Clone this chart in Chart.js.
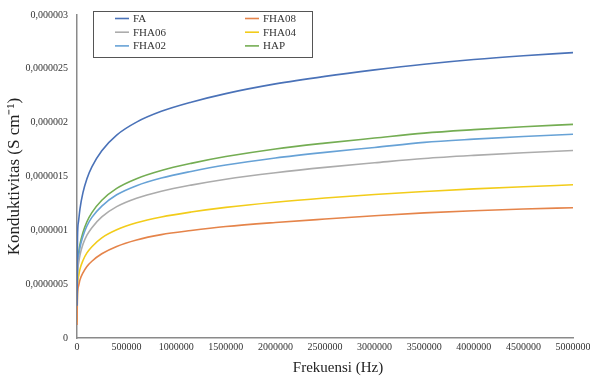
<!DOCTYPE html>
<html>
<head>
<meta charset="utf-8">
<script src="https://cdn.jsdelivr.net/npm/chart.js@4.4.1/dist/chart.umd.min.js"></script>
<style>
  html, body { margin: 0; padding: 0; background: #ffffff; }
  #wrap { width: 590px; height: 380px; position: relative; }
</style>
</head>
<body>
<div id="wrap"><canvas id="c" width="590" height="380"></canvas></div>
<script>
// Frequency (Hz) of each sample
const frequency = [100, 5000, 15000, 30000, 60000, 100000, 150000, 250000, 400000, 600000, 850000,
  1150000, 1500000, 2000000, 2500000, 3000000, 3500000, 4000000, 4500000, 5000000];

// Conductivity (S cm-1) per sample
const FA = [0.30e-6, 0.93e-6, 1.08e-6, 1.20e-6, 1.35e-6, 1.48e-6, 1.59e-6, 1.74e-6, 1.885e-6, 2.005e-6, 2.105e-6,
  2.19e-6, 2.27e-6, 2.36e-6, 2.43e-6, 2.49e-6, 2.543e-6, 2.587e-6, 2.622e-6, 2.651e-6];
const FHA08 = [0.12e-6, 0.41e-6, 0.48e-6, 0.54e-6, 0.605e-6, 0.665e-6, 0.713e-6, 0.782e-6, 0.85e-6, 0.91e-6, 0.96e-6,
  0.998e-6, 1.035e-6, 1.073e-6, 1.105e-6, 1.135e-6, 1.162e-6, 1.182e-6, 1.198e-6, 1.21e-6];
const FHA06 = [0.17e-6, 0.58e-6, 0.69e-6, 0.77e-6, 0.87e-6, 0.955e-6, 1.025e-6, 1.125e-6, 1.22e-6, 1.298e-6, 1.363e-6,
  1.42e-6, 1.475e-6, 1.535e-6, 1.585e-6, 1.627e-6, 1.667e-6, 1.696e-6, 1.72e-6, 1.741e-6];
const FHA04 = [0.15e-6, 0.48e-6, 0.57e-6, 0.64e-6, 0.72e-6, 0.79e-6, 0.848e-6, 0.93e-6, 1.005e-6, 1.07e-6, 1.124e-6,
  1.17e-6, 1.213e-6, 1.261e-6, 1.30e-6, 1.333e-6, 1.36e-6, 1.385e-6, 1.405e-6, 1.423e-6];
const FHA02 = [0.19e-6, 0.63e-6, 0.75e-6, 0.84e-6, 0.945e-6, 1.04e-6, 1.12e-6, 1.225e-6, 1.33e-6, 1.415e-6, 1.486e-6,
  1.547e-6, 1.607e-6, 1.672e-6, 1.724e-6, 1.77e-6, 1.817e-6, 1.847e-6, 1.872e-6, 1.892e-6];
const HAP = [0.20e-6, 0.66e-6, 0.78e-6, 0.87e-6, 0.98e-6, 1.08e-6, 1.165e-6, 1.28e-6, 1.39e-6, 1.48e-6, 1.556e-6,
  1.622e-6, 1.685e-6, 1.756e-6, 1.81e-6, 1.857e-6, 1.903e-6, 1.935e-6, 1.962e-6, 1.984e-6];

// Axis tick labels
const xTickLabels = ['0', '500000', '1000000', '1500000', '2000000', '2500000', '3000000', '3500000', '4000000', '4500000', '5000000'];
const yTickLabels = ['0', '0,0000005', '0,000001', '0,0000015', '0,000002', '0,0000025', '0,000003'];
const xTitle = 'Frekuensi (Hz)';
const yTitle = 'Konduktivitas (S cm⁻¹)';

const seriesNames = ['FA', 'FHA08', 'FHA06', 'FHA04', 'FHA02', 'HAP'];
const seriesValues = [FA, FHA08, FHA06, FHA04, FHA02, HAP];
const seriesColors = ['#4a72b8', '#e5844a', '#acacac', '#f2cc1a', '#67a2d6', '#74ad53'];

const SERIF = '"Liberation Serif", "Times New Roman", serif';

const datasets = seriesNames.map((name, i) => ({
  label: name,
  data: frequency.map((f, k) => ({ x: f, y: seriesValues[i][k] })),
  borderColor: seriesColors[i],
  backgroundColor: seriesColors[i],
  borderWidth: 1.6,
  pointRadius: 0,
  showLine: true,
  fill: false,
  cubicInterpolationMode: 'monotone'
}));

// Boxed two-column legend inside the plot area, plus the frequency axis title
const boxedLegend = {
  id: 'boxedLegend',
  afterDraw(chart) {
    const ctx = chart.ctx;
    const x0 = 93, y0 = 11, w = 219, h = 46;
    ctx.save();
    ctx.fillStyle = '#ffffff';
    ctx.fillRect(x0, y0, w, h);
    ctx.strokeStyle = '#555555';
    ctx.lineWidth = 1;
    ctx.strokeRect(x0 + 0.5, y0 + 0.5, w, h);
    ctx.font = '11px ' + SERIF;
    ctx.textBaseline = 'middle';
    chart.data.datasets.forEach((ds, i) => {
      const col = i % 2, row = Math.floor(i / 2);
      const lx = col === 0 ? 115 : 245;
      const ly = 18.5 + row * 13.7;
      ctx.strokeStyle = ds.borderColor;
      ctx.lineWidth = 1.6;
      ctx.beginPath();
      ctx.moveTo(lx, ly);
      ctx.lineTo(lx + 14, ly);
      ctx.stroke();
      ctx.fillStyle = '#333333';
      ctx.fillText(ds.label, lx + 18, ly + 0.5);
    });

    // x-axis title
    ctx.font = '15px ' + SERIF;
    ctx.fillStyle = '#222222';
    ctx.textAlign = 'center';
    ctx.textBaseline = 'middle';
    ctx.fillText(xTitle, 338, 368);
    ctx.restore();
  }
};

new Chart(document.getElementById('c'), {
  type: 'scatter',
  data: { datasets },
  plugins: [boxedLegend],
  options: {
    responsive: false,
    animation: false,
    layout: { padding: { top: 14, right: 17, left: 0, bottom: 0 } },
    plugins: { legend: { display: false }, tooltip: { enabled: false } },
    scales: {
      x: {
        type: 'linear',
        min: 0,
        max: 5000000,
        afterFit(scale) { scale.height = 42; scale.paddingRight = 0; scale.paddingLeft = 0; },
        afterBuildTicks(scale) {
          scale.ticks = xTickLabels.map((t, i) => ({ value: i * 500000 }));
        },
        ticks: {
          autoSkip: false,
          maxRotation: 0,
          padding: 3,
          color: '#333333',
          font: { family: SERIF, size: 10 },
          callback: (v, i) => xTickLabels[i]
        },
        grid: { display: false, drawTicks: false, tickLength: 0 },
        border: { display: true, color: '#8a8a8a', width: 1.5 },
        title: { display: false }
      },
      y: {
        type: 'linear',
        min: 0,
        max: 3e-6,
        afterFit(scale) { scale.width = 77; },
        afterBuildTicks(scale) {
          scale.ticks = yTickLabels.map((t, i) => ({ value: i * 5e-7 }));
        },
        ticks: {
          autoSkip: false,
          padding: 9,
          color: '#333333',
          font: { family: SERIF, size: 10 },
          callback: (v, i) => yTickLabels[i]
        },
        grid: { display: false, drawTicks: false, tickLength: 0 },
        border: { display: true, color: '#8a8a8a', width: 1.5 },
        title: {
          display: true,
          text: yTitle,
          color: '#222222',
          font: { family: SERIF, size: 17 },
          padding: { top: 4, bottom: 0 }
        }
      }
    }
  }
});
</script>
</body>
</html>
